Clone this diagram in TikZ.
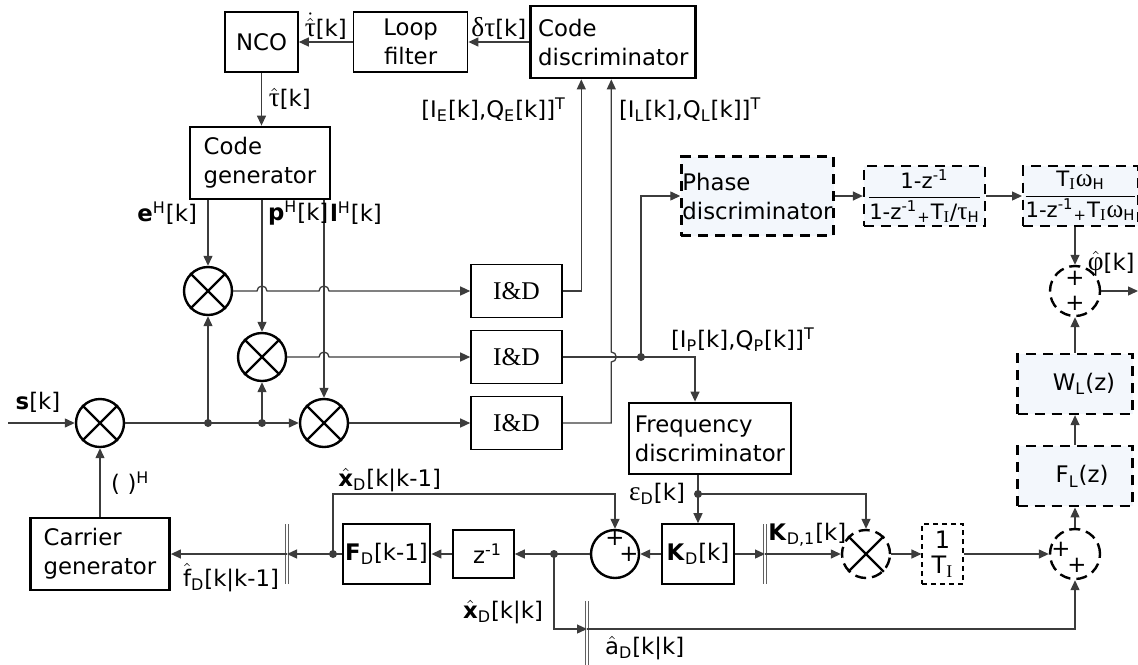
\documentclass[tikz,border=0pt]{standalone}
\usepackage{fontspec}
\setmainfont{DejaVu Sans}
\newfontfamily\grk[Scale=1.2]{Liberation Serif}
\newfontfamily\serif[Scale=1.12]{Liberation Serif}
\usetikzlibrary{positioning,arrows.meta,calc}
\definecolor{wirec}{RGB}{60,60,60}
\definecolor{paleblue}{RGB}{243,247,252}
\newcommand{\dsize}{\fontsize{11.4}{14.5}\selectfont}
\newcommand{\lsub}[1]{\textsubscript{#1}}
\newcommand{\lsup}[1]{\textsuperscript{#1}}
\newcommand{\hatbox}[1]{\ensuremath{\hat{\mbox{#1}}}}

\begin{document}
\begin{tikzpicture}[x=0.5pt,y=-0.5pt,font=\dsize,>={Triangle[length=5pt,width=4.5pt]}]
\tikzstyle{blk}=[draw,line width=0.8pt,inner sep=0.5pt,align=center]
\tikzstyle{thk}=[draw,line width=1.4pt,inner sep=0.5pt,align=left]
\tikzstyle{dblk}=[draw,line width=1.15pt,dash pattern=on 5pt off 3.5pt,
  fill=paleblue,inner sep=0.5pt,align=left]
\tikzstyle{frac}=[dblk,inner sep=0pt,font=\fontsize{10.6}{12}\selectfont]
\tikzstyle{mix}=[circle,draw,line width=1.2pt,minimum size=24pt,inner sep=0pt]
\tikzstyle{dmix}=[mix,dash pattern=on 5.5pt off 3pt]
\tikzstyle{ln}=[draw=wirec,line width=0.65pt]
\tikzstyle{dbar}=[draw=gray!75!black,double=white,double distance=1.2pt,line width=0.45pt]
\useasboundingbox (0,0) rectangle (1138,664);

% code loop
\node[blk,minimum width=36.5pt,minimum height=30pt] (nco) at (261.5,42) {NCO};
\node[blk,minimum width=57pt,minimum height=30pt,right=27pt of nco] (loop) {Loop\\filter};
\node[thk,minimum width=82.5pt,minimum height=36pt,right=30.5pt of loop] (cdisc)
  {Code\\discriminator};
\node[thk,minimum width=70pt,minimum height=36pt] (cgen) at (260,163) {Code\\generator};

% correlators
\node[mix] (ms) at (100,423) {};
\node[mix] (me) at (208,291) {};
\node[mix] (mp) at (262,357) {};
\node[mix] (ml) at (324,423) {};
\node[blk,font=\dsize\serif,minimum width=45.5pt,minimum height=26.5pt] (ide) at (516.5,291) {I\&D};
\node[blk,font=\dsize\serif,minimum width=45.5pt,minimum height=26.5pt] (idp) at (516.5,357) {I\&D};
\node[blk,font=\dsize\serif,minimum width=45.5pt,minimum height=26.5pt] (idl) at (516.5,423) {I\&D};

% phase path
\node[dblk,minimum width=75.5pt,minimum height=39.5pt] (pdisc) at (757.5,196) {Phase\\discriminator};
\node[frac,minimum width=60.5pt,minimum height=30pt] (filt1) at (924.5,196)
  {$\displaystyle\frac{\mbox{1-z\lsup{-1}}}{\mbox{1-z\lsup{-1}\lsub{+}T\lsub{\serif I}/{\grk τ}\lsub{H}}}$};
\node[frac,minimum width=56.5pt,minimum height=30pt] (filt2) at (1080.5,196)
  {$\displaystyle\frac{\mbox{T\lsub{\serif I}{\grk ω}\lsub{H}}}{\mbox{1-z\lsup{-1}\lsub{+}T\lsub{\serif I}{\grk ω}\lsub{H}}}$};
\node[dmix,minimum size=25pt] (sumphi) at (1075,291) {};
\node[dblk,minimum width=57.5pt,minimum height=30pt] (wl) at (1075,384) {\hspace*{9pt}W\lsub{L}(z)};
\node[dblk,minimum width=57.5pt,minimum height=30pt,below=15pt of wl] (fl) {\hspace*{7pt}F\lsub{L}(z)};

% frequency path
\node[thk,minimum width=81pt,minimum height=35.5pt] (fdisc) at (710,438.5) {Frequency\\discriminator};
\node[dmix,minimum size=25pt] (sumf) at (1075,554) {};
\node[draw,line width=0.55pt,dash pattern=on 2.5pt off 2pt,minimum width=20.5pt,
  minimum height=30pt,inner sep=0pt,align=center,font=\fontsize{12}{12.5}\selectfont]
  (invT) at (942.5,554) {1\\T\lsub{\serif I}};
\node[dmix] (mxk) at (866,554) {};
\node[blk,minimum width=36pt,minimum height=30pt] (kd) at (698,554) {\textbf{K}\lsub{D}[k]};
\node[mix] (sumx) at (615,554) {};
\node[blk,minimum width=30.5pt,minimum height=24pt] (zinv) at (483.5,554) {\hspace*{4pt}z\lsup{-1}};
\node[thk,minimum width=43.5pt,minimum height=30pt] (fd) at (386.5,554) {\textbf{F}\lsub{D}[k-1]};
\node[thk,minimum width=69.5pt,minimum height=36pt] (cargen) at (100,554) {Carrier\\generator};

\coordinate (sin) at (8,423);
\coordinate (js1) at (me |- ms);
\coordinate (js2) at (mp |- ms);
\coordinate (pj) at (641,357);
\coordinate (ej) at (698,494);
\coordinate (fj) at (333,554);
\coordinate (xj) at (554,554);
\coordinate (bar1) at (287,554);
\coordinate (bar2) at (765,554);
\coordinate (bar3) at (587,629);
\coordinate (phiout) at (1138,291);

% mixer crosses and junction dots
\foreach \m in {ms,me,mp,ml,mxk}
  \draw[line width=1.2pt] (\m.north east) -- (\m.south west) (\m.north west) -- (\m.south east);
\foreach \j in {js1,js2,pj,ej,fj,xj}
  \fill[wirec] (\j) circle (2pt);
\draw[dbar] ([yshift=15pt]bar1) -- ([yshift=-15pt]bar1);
\draw[dbar] ([yshift=15pt]bar2) -- ([yshift=-15pt]bar2);
\draw[dbar] ([yshift=14pt]bar3) -- ([yshift=-18pt]bar3);

% code loop wires
\draw[ln,->] (loop.west) -- (nco.east)
  node[midway,above,inner sep=1pt] (ltaud) {$\dot{\hat{\mbox{\grk τ}}}$[k]};
\draw[ln,->] (cdisc.west) -- (loop.east)
  node[midway,above,inner sep=1pt] (ldtau) {{\grk δτ}[k]};
\draw[ln,->] (nco.south) -- (nco.south |- cgen.north)
  node[midway,right] (ltau) {\hatbox{\grk τ}[k]};
\draw[ln,->] (me |- cgen.south) -- (me.north);
\draw[ln,->] (mp |- cgen.south) -- (mp.north);
\draw[ln,->] (ml |- cgen.south) -- (ml.north);
\node[anchor=east] (leh) at (204,213) {\textbf{e}\lsup{H}[k]};
\node[anchor=west] (lph) at (261,213) {\textbf{p}\lsup{H}[k]};
\node[anchor=west] (llh) at (323,213) {\textbf{l}\lsup{H}[k]};

\draw[ln,->] (sin) -- (ms.west);
\node (ls) at (38,402) {\textbf{s}[k]};
\draw[ln,->] (ms.east) -- (ml.west);
\draw[ln,->] (js1) -- (me.south);
\draw[ln,->] (js2) -- (mp.south);
\draw[ln,->] (cargen.north) -- (ms.south);
\node[anchor=west] (lherm) at (104,483) {(\,\,)\lsup{H}};

\draw[ln,->] (me.east) -- ($(mp |- me)+(-2.5pt,0)$) arc[start angle=180,end angle=0,radius=2.5pt]
  -- ($(ml |- me)+(-2.5pt,0)$) arc[start angle=180,end angle=0,radius=2.5pt] -- (ide.west);
\draw[ln,->] (mp.east) -- ($(ml |- mp)+(-2.5pt,0)$) arc[start angle=180,end angle=0,radius=2.5pt]
  -- (idp.west);
\draw[ln,->] (ml.east) -- (idl.west);
\draw[ln,->] (ide.east) -| ($(cdisc.south)+(-16pt,0)$);
\draw[ln,->] (idl.east) -| ($(cdisc.south |- idp)+(-1pt,-2.5pt)$)
  arc[start angle=-90,end angle=90,radius=2.5pt] -- ($(cdisc.south)+(-1pt,0)$);
\node[anchor=east] (lie) at (573,110) {[I\lsub{E}[k],Q\lsub{E}[k]]\lsup{T}};
\node[anchor=west] (lil) at (612,110) {[I\lsub{L}[k],Q\lsub{L}[k]]\lsup{T}};

% prompt branch
\draw[ln] (idp.east) -- (pj);
\draw[ln,->] (pj) |- (pdisc.west);
\draw[ln,->] (pj) -| ($(fdisc.north)+(-7.5pt,0)$);
\node[anchor=west] (lip) at (664,340) {[I\lsub{P}[k],Q\lsub{P}[k]]\lsup{T}};
\draw[ln,->] (pdisc.east) -- (filt1.west);
\draw[ln,->] (filt1.east) -- (filt2.west);
\draw[ln,->] (sumphi |- filt2.south) -- (sumphi.north);
\draw[ln,->] (sumphi.east) -- (phiout);
\node[anchor=east,inner sep=1pt] (lphi) at (1137,264) {\hatbox{\grk φ}[k]};
\node (pp1) at ([yshift=6.5pt]sumphi.center) {+};
\node (pp2) at ([yshift=-6pt]sumphi.center) {+};
\draw[ln,->] (wl.north) -- (sumphi.south);
\draw[ln,->] (fl.north) -- (wl.south);
\draw[ln,->] (sumf.north) -- (fl.south);
\node (pf1) at ([xshift=-7pt,yshift=2.5pt]sumf.center) {+};
\node (pf2) at ([xshift=1pt,yshift=-5.5pt]sumf.center) {+};

% frequency loop wires
\draw[ln,->] (kd |- fdisc.south) -- (kd.north);
\node[anchor=east] (leps) at (692,494) {{\grk ε}\lsub{D}[k]};
\draw[ln,->] (ej) -| (mxk.north);
\draw[ln,->] (kd.east) -- (bar2);
\draw[ln,->] (bar2) -- (mxk.west);
\node[anchor=south west,inner sep=1pt] (lkd1) at (766,549) {\textbf{K}\lsub{D,1}[k]};
\draw[ln,->] (mxk.east) -- (invT.west);
\draw[ln,->] (invT.east) -- (sumf.west);
\draw[ln,->] (kd.west) -- (sumx.east);
\node (px1) at ([yshift=8pt]sumx.center) {+};
\node (px2) at ([xshift=7pt]sumx.center) {+};
\draw[ln,->] (fj) |- (sumx.north |- ej) -- (sumx.north);
\node[anchor=south west,inner sep=1pt] (lxp) at (336,494) {\hatbox{\textbf{x}}\lsub{D}[k|k-1]};
\draw[ln,->] (sumx.west) -- (zinv.east);
\draw[ln,->] (zinv.west) -- (fd.east);
\draw[ln,->] (fd.west) -- (bar1);
\draw[ln,->] (bar1) -- (cargen.east);
\node[anchor=west] (lfd) at (176,578) {\hatbox{f}\lsub{D}[k|k-1]};
\draw[ln,->] (xj) |- (bar3);
\draw[ln,->] (bar3) -| (sumf.south);
\node[anchor=east] (lxk) at (550,612) {\hatbox{\textbf{x}}\lsub{D}[k|k]};
\node[anchor=west] (lad) at (598,648) {\hatbox{a}\lsub{D}[k|k]};
\end{tikzpicture}
\end{document}
